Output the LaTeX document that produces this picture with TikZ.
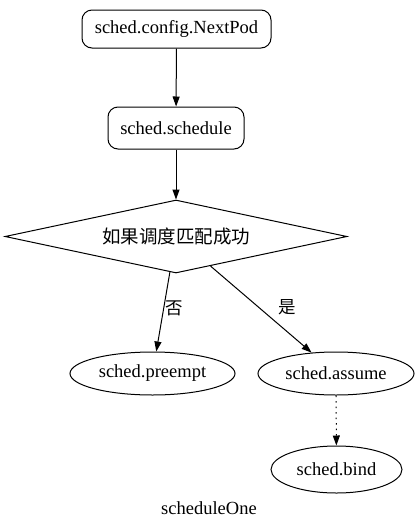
\documentclass[tikz,border=0pt]{standalone}
\usepackage{fontspec}
\setmainfont{Liberation Serif}
\newfontfamily\cjk{Noto Sans CJK SC}
\usetikzlibrary{shapes.geometric,arrows.meta}
\begin{document}
\begin{tikzpicture}[x=1pt,y=-1pt,
  every node/.style={font=\fontsize{18.5}{20}\selectfont},
  rbox/.style={draw,line width=1pt,rounded corners=10pt,inner sep=0pt},
  ell/.style={draw,line width=1pt,ellipse,inner sep=0pt},
  arr/.style={draw,line width=1pt,-{Triangle[length=10pt,width=7pt]}},
  lbl/.style={font=\cjk\fontsize{17.5}{19}\selectfont,anchor=west,inner sep=1pt}
]
\useasboundingbox (0,0) rectangle (419,528);
\node[rbox,minimum width=189pt,minimum height=38pt] (n) at (176.5,29) {sched.config.NextPod};
\node[rbox,minimum width=136pt,minimum height=42pt] (s) at (176,128) {sched.schedule};
\node[draw,line width=1pt,diamond,aspect=4.685,inner sep=0pt,minimum width=342pt,minimum height=73pt] (d) at (176,236.5) {\cjk\fontsize{18.5}{20}\selectfont 如果调度匹配成功};
\node[ell,minimum width=165pt,minimum height=43pt] (p) at (152.5,373.5) {sched.preempt};
\node[ell,minimum width=156pt,minimum height=43pt] (a) at (336,373.5) {sched.assume};
\node[ell,minimum width=131pt,minimum height=47pt] (b) at (336.5,469.5) {sched.bind};
\node (t) at (209,508) {scheduleOne};
\draw[arr] (n) -- (s);
\draw[arr] (s) -- (d);
\draw[arr] (d) -- node[lbl,pos=0.45] {否} (p);
\draw[arr] (d) -- node[lbl,pos=0.48,xshift=18pt] {是} (a);
\draw[arr,dash pattern=on 1.5pt off 4pt] (a) -- (b);
\end{tikzpicture}
\end{document}
